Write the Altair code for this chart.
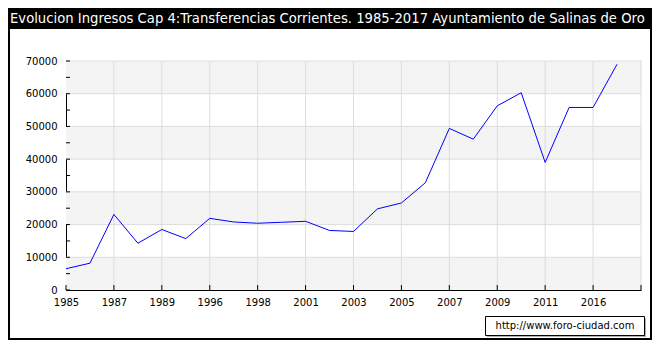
import altair as alt
import pandas as pd

TITLE = "Evolucion Ingresos Cap 4:Transferencias Corrientes. 1985-2017 Ayuntamiento de Salinas de Oro"
WATERMARK = "http://www.foro-ciudad.com"

# x tick labels (every other point)
tick_labels = ["1985", "1987", "1989", "1996", "1998", "2001", "2003",
               "2005", "2007", "2009", "2011", "2016"]
# data values, one per point (index positions along the category axis)
values = [6500, 8200, 23100, 14300, 18500, 15700, 21900, 20800, 20400, 20700,
          21000, 18200, 17900, 24800, 26600, 32800, 49400, 46100, 56300, 60300,
          39000, 55800, 55800, 69000]

y_ticks = list(range(0, 70001, 5000))
y_labels = list(range(0, 70001, 10000))
band_lo = [0, 20000, 40000, 60000]
band_hi = [10000, 30000, 50000, 70000]
x_ticks = list(range(0, 25, 2))

W, H = 575, 229
PL, PT = 58, 53
TOTAL_W, TOTAL_H = 644, 332

df = pd.DataFrame({"i": list(range(len(values))), "v": values})
bands = pd.DataFrame({"lo": band_lo, "hi": band_hi})
yt = pd.DataFrame({"y": y_ticks})
yg = pd.DataFrame({"y": y_labels[1:]})
xt = pd.DataFrame({"x": x_ticks})
xg = pd.DataFrame({"x": x_ticks[1:]})
one = pd.DataFrame({"a": [0]})

label_arr = "[" + ",".join("'%s'" % s for s in tick_labels + [""]) + "]"

xs = alt.Scale(domain=[0, 24], nice=False, zero=False)
ys = alt.Scale(domain=[0, 70000], nice=False)

xaxis = alt.Axis(values=x_ticks, labelExpr=label_arr + "[round(datum.value/2)]",
                 grid=False, ticks=False, domainColor="black", labelColor="black",
                 labelFont="DejaVu Sans", labelFontSize=10, labelPadding=7, title=None,
                 labelFlush=False, labelOverlap=False)
yaxis = alt.Axis(values=y_labels, format="d", grid=False, ticks=False, domainColor="black",
                 labelColor="black", labelFont="DejaVu Sans", labelFontSize=10,
                 labelPadding=9, title=None, labelOverlap=False, labelFlush=False)

bg = alt.Chart(bands).mark_rect(fill="#f4f4f4").encode(
    y=alt.Y("lo:Q", scale=ys, axis=yaxis), y2="hi:Q",
    x=alt.value(0), x2=alt.value(W))

hgrid = alt.Chart(yg).mark_rule(color="#dddddd", strokeWidth=1).encode(
    y=alt.Y("y:Q", scale=ys, axis=yaxis), x=alt.value(0), x2=alt.value(W))
vgrid = alt.Chart(xg).mark_rule(color="#dddddd", strokeWidth=1).encode(
    x=alt.X("x:Q", scale=xs, axis=xaxis), y=alt.value(0), y2=alt.value(H))

ytick = alt.Chart(yt).mark_rule(color="black").encode(
    y=alt.Y("y:Q", scale=ys, axis=yaxis), x=alt.value(0), x2=alt.value(4))
xtick = alt.Chart(xt).mark_rule(color="black").encode(
    x=alt.X("x:Q", scale=xs, axis=xaxis), y=alt.value(H), y2=alt.value(H - 5))

line = alt.Chart(df).mark_line(color="#0000ff", strokeWidth=1).encode(
    x=alt.X("i:Q", scale=xs, axis=xaxis), y=alt.Y("v:Q", scale=ys, axis=yaxis))

# decorations: title bar, frame, watermark
bar = alt.Chart(one).mark_rect(fill="black").encode(
    x=alt.value(-PL), x2=alt.value(TOTAL_W - PL), y=alt.value(-PT), y2=alt.value(-PT + 21))
title = alt.Chart(one).mark_text(color="white", font="DejaVu Sans", fontSize=13.2,
                                 align="left", baseline="middle").encode(
    x=alt.value(-PL + 2), y=alt.value(-PT + 11), text=alt.value(TITLE))
frame = alt.Chart(one).mark_rect(fill=None, stroke="black", strokeWidth=2).encode(
    x=alt.value(-PL + 1), x2=alt.value(TOTAL_W - PL - 1),
    y=alt.value(-PT), y2=alt.value(TOTAL_H - PT - 1))
shadow = alt.Chart(one).mark_rect(fill="#b0b0b0").encode(
    x=alt.value(421), x2=alt.value(580), y=alt.value(257), y2=alt.value(276))
box = alt.Chart(one).mark_rect(fill="white", stroke="black", strokeWidth=1).encode(
    x=alt.value(419.5), x2=alt.value(578.5), y=alt.value(255.5), y2=alt.value(274.5))
wm = alt.Chart(one).mark_text(color="black", font="DejaVu Sans", fontSize=10,
                              align="center", baseline="middle").encode(
    x=alt.value(499), y=alt.value(265), text=alt.value(WATERMARK))

chart = alt.layer(bg, hgrid, vgrid, ytick, xtick, line, bar, title, frame, shadow, box, wm).properties(
    width=W, height=H,
    padding={"left": PL, "top": PT, "right": TOTAL_W - PL - W, "bottom": TOTAL_H - PT - H},
    autosize=alt.AutoSizeParams(type="none"),
    background="white",
).configure_view(stroke=None)

chart.save("out.html", embed_options={"renderer": "svg", "actions": False})
